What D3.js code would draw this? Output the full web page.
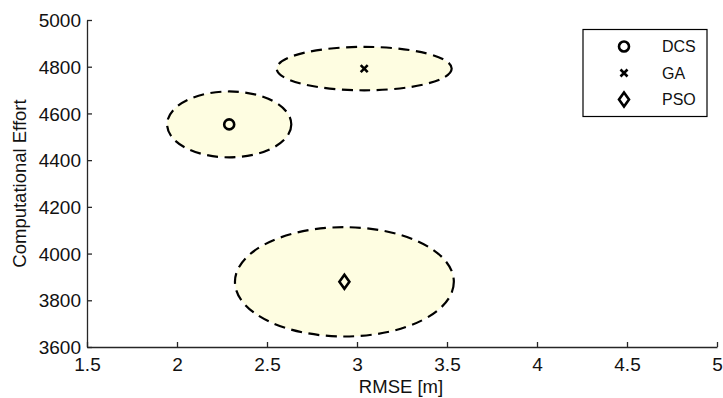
<!DOCTYPE html>
<html>
<head>
<meta charset="utf-8">
<script src="https://cdn.jsdelivr.net/npm/d3@7"></script>
<style>
  html, body { margin: 0; padding: 0; background: #fff; }
  svg { display: block; font-family: "Liberation Sans", Arial, Helvetica, sans-serif; }
</style>
</head>
<body>
<svg id="chart" width="723" height="398"></svg>
<script>
// Algorithm results: mean RMSE / effort with spread (semi-axes) of each run cloud
const methods = ["DCS", "GA", "PSO"];
const rmseMean = [2.29, 3.04, 2.93];
const effortMean = [4553, 4792, 3879];
const rmseSpread = [0.345, 0.486, 0.608];
const effortSpread = [141, 93, 234];
const markers = ["circle", "cross", "diamond"];

const xTicks = [1.5, 2, 2.5, 3, 3.5, 4, 4.5, 5];
const yTicks = [3600, 3800, 4000, 4200, 4400, 4600, 4800, 5000];

const W = 723, H = 398;
const margin = { left: 87, right: 6, top: 20, bottom: 51 };
const FS = 19;

const svg = d3.select("#chart");
const x = d3.scaleLinear().domain([1.5, 5]).range([margin.left, W - margin.right]);
const y = d3.scaleLinear().domain([3600, 5000]).range([H - margin.bottom, margin.top]);

const data = methods.map((m, i) => ({
  name: m, rx: rmseMean[i], ry: effortMean[i],
  sx: rmseSpread[i], sy: effortSpread[i], marker: markers[i]
}));

// spread ellipses
svg.append("g").selectAll("ellipse").data(data).join("ellipse")
  .attr("cx", d => x(d.rx))
  .attr("cy", d => y(d.ry))
  .attr("rx", d => x(d.rx + d.sx) - x(d.rx))
  .attr("ry", d => y(d.ry - d.sy) - y(d.ry))
  .attr("fill", "#fefde1")
  .attr("stroke", "#000")
  .attr("stroke-width", 2.2)
  .attr("stroke-dasharray", "11,6.5");

function drawMarker(g, type) {
  if (type === "circle") {
    g.append("circle").attr("r", 5).attr("fill", "none")
      .attr("stroke", "#000").attr("stroke-width", 2.6);
  } else if (type === "cross") {
    g.append("path").attr("d", "M-3.5,-3.5L3.5,3.5M-3.5,3.5L3.5,-3.5")
      .attr("stroke", "#000").attr("stroke-width", 2.6).attr("fill", "none");
  } else {
    g.append("path").attr("d", "M0,-7L5,0L0,7L-5,0Z")
      .attr("stroke", "#000").attr("stroke-width", 2.6).attr("fill", "none")
      .attr("stroke-linejoin", "miter");
  }
}

// centre markers
const pts = svg.append("g").selectAll("g").data(data).join("g")
  .attr("transform", d => `translate(${x(d.rx)},${y(d.ry)})`);
pts.each(function (d) { drawMarker(d3.select(this), d.marker); });

// axes with inward ticks
const xAxis = svg.append("g")
  .attr("transform", `translate(0,${H - margin.bottom})`)
  .call(d3.axisBottom(x).tickValues(xTicks).tickSize(-5).tickSizeOuter(0)
    .tickFormat(d3.format("")));
const yAxis = svg.append("g")
  .attr("transform", `translate(${margin.left},0)`)
  .call(d3.axisLeft(y).tickValues(yTicks).tickSize(-5).tickSizeOuter(0)
    .tickFormat(d3.format("")));

[xAxis, yAxis].forEach(a => {
  a.attr("font-size", FS).attr("font-family", "Liberation Sans, Arial, sans-serif");
  a.select(".domain").attr("stroke", "#262626").attr("stroke-width", 1.3);
  a.selectAll(".tick line").attr("stroke", "#262626").attr("stroke-width", 1.3);
  a.selectAll(".tick text").attr("fill", "#111");
});
xAxis.selectAll(".tick text").attr("dy", null).attr("y", 24);
yAxis.selectAll(".tick text").attr("x", -6).attr("dy", "0.35em");

// axis titles
svg.append("text")
  .attr("x", (x(1.5) + x(5)) / 2 - 1).attr("y", 393)
  .attr("text-anchor", "middle").attr("font-size", 18.5).attr("fill", "#111")
  .text("RMSE [m]");
svg.append("text")
  .attr("transform", `translate(26,${(y(3600) + y(5000)) / 2}) rotate(-90)`)
  .attr("text-anchor", "middle").attr("font-size", 18.5).attr("fill", "#111")
  .text("Computational Effort");

// legend
const lg = svg.append("g");
lg.append("rect").attr("x", 583).attr("y", 29.5).attr("width", 124).attr("height", 87)
  .attr("fill", "#fff").attr("stroke", "#000").attr("stroke-width", 1.2);
const rows = lg.selectAll("g.row").data(data).join("g").attr("class", "row")
  .attr("transform", (d, i) => `translate(0,${46.5 + i * 26.5})`);
rows.each(function (d) {
  const g = d3.select(this).append("g").attr("transform", "translate(624,0)");
  drawMarker(g, d.marker);
});
rows.append("text").attr("x", 662).attr("dy", "0.35em")
  .attr("font-size", 16).attr("fill", "#111").text(d => d.name);
</script>
</body>
</html>
